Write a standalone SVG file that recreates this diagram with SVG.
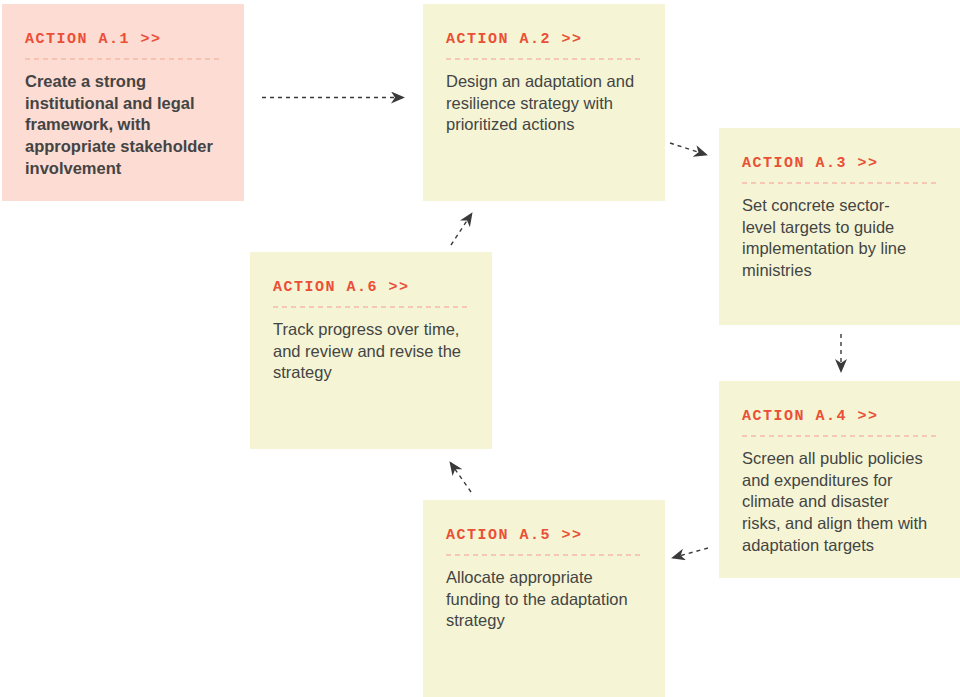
<svg xmlns="http://www.w3.org/2000/svg" width="960" height="697" viewBox="0 0 960 697">
  <defs>
    <marker id="arrow" viewBox="0 0 14 12" refX="13" refY="6" markerWidth="14" markerHeight="12" markerUnits="userSpaceOnUse" orient="auto">
      <path d="M0,0 L14,6 L0,12 L4,6 Z" fill="#3a3a3a"/>
    </marker>
    <style>
      .box { fill: #f5f5d5; }
      .box.first { fill: #fddcd3; }
      .hd { font-family: "Liberation Mono", "DejaVu Sans Mono", monospace; font-size: 15px; font-weight: bold; fill: #ea4f37; letter-spacing: 1.5px; }
      .rule { stroke: #f6b9a9; stroke-width: 1.5; stroke-dasharray: 5 4; }
      .body { font-family: "Liberation Sans", Arial, sans-serif; font-size: 16.5px; fill: #444444; }
      .body.strong { font-weight: bold; }
      .conn { fill: none; stroke: #3a3a3a; stroke-width: 1.4; stroke-dasharray: 4 4; marker-end: url(#arrow); }
    </style>
  </defs>
  <rect width="960" height="697" fill="#ffffff"/>

  <g id="action-a1">
    <rect class="box first" x="2" y="4" width="242" height="197"/>
    <text class="hd" x="25" y="43">ACTION A.1 &gt;&gt;</text>
    <line class="rule" x1="25" y1="59" x2="221" y2="59"/>
    <text class="body strong" x="25" y="87">
      <tspan x="25" y="87">Create a strong</tspan>
      <tspan x="25" y="108.7">institutional and legal</tspan>
      <tspan x="25" y="130.4">framework, with</tspan>
      <tspan x="25" y="152.1">appropriate stakeholder</tspan>
      <tspan x="25" y="173.8">involvement</tspan>
    </text>
  </g>

  <g id="action-a2">
    <rect class="box" x="423" y="4" width="242" height="197"/>
    <text class="hd" x="446" y="43">ACTION A.2 &gt;&gt;</text>
    <line class="rule" x1="446" y1="59" x2="642" y2="59"/>
    <text class="body" x="446" y="87">
      <tspan x="446" y="87">Design an adaptation and</tspan>
      <tspan x="446" y="108.7">resilience strategy with</tspan>
      <tspan x="446" y="130.4">prioritized actions</tspan>
    </text>
  </g>

  <g id="action-a3">
    <rect class="box" x="719" y="128" width="241" height="197"/>
    <text class="hd" x="742" y="167">ACTION A.3 &gt;&gt;</text>
    <line class="rule" x1="742" y1="183" x2="938" y2="183"/>
    <text class="body" x="742" y="211">
      <tspan x="742" y="211">Set concrete sector-</tspan>
      <tspan x="742" y="232.7">level targets to guide</tspan>
      <tspan x="742" y="254.4">implementation by line</tspan>
      <tspan x="742" y="276.1">ministries</tspan>
    </text>
  </g>

  <g id="action-a4">
    <rect class="box" x="719" y="381" width="241" height="197"/>
    <text class="hd" x="742" y="420">ACTION A.4 &gt;&gt;</text>
    <line class="rule" x1="742" y1="436" x2="938" y2="436"/>
    <text class="body" x="742" y="464">
      <tspan x="742" y="464">Screen all public policies</tspan>
      <tspan x="742" y="485.7">and expenditures for</tspan>
      <tspan x="742" y="507.4">climate and disaster</tspan>
      <tspan x="742" y="529.1">risks, and align them with</tspan>
      <tspan x="742" y="550.8">adaptation targets</tspan>
    </text>
  </g>

  <g id="action-a5">
    <rect class="box" x="423" y="500" width="242" height="197"/>
    <text class="hd" x="446" y="539">ACTION A.5 &gt;&gt;</text>
    <line class="rule" x1="446" y1="555" x2="642" y2="555"/>
    <text class="body" x="446" y="583">
      <tspan x="446" y="583">Allocate appropriate</tspan>
      <tspan x="446" y="604.7">funding to the adaptation</tspan>
      <tspan x="446" y="626.4">strategy</tspan>
    </text>
  </g>

  <g id="action-a6">
    <rect class="box" x="250" y="252" width="242" height="197"/>
    <text class="hd" x="273" y="291">ACTION A.6 &gt;&gt;</text>
    <line class="rule" x1="273" y1="307" x2="469" y2="307"/>
    <text class="body" x="273" y="335">
      <tspan x="273" y="335">Track progress over time,</tspan>
      <tspan x="273" y="356.7">and review and revise the</tspan>
      <tspan x="273" y="378.4">strategy</tspan>
    </text>
  </g>

  <g id="connectors">
    <line class="conn" x1="262" y1="97.5" x2="404" y2="97.5"/>
    <line class="conn" x1="670" y1="143" x2="707" y2="155"/>
    <line class="conn" x1="841" y1="334" x2="841" y2="372"/>
    <line class="conn" x1="708" y1="548" x2="672" y2="558"/>
    <line class="conn" x1="471" y1="492" x2="450" y2="462"/>
    <line class="conn" x1="451" y1="245" x2="472" y2="213"/>
  </g>
</svg>
